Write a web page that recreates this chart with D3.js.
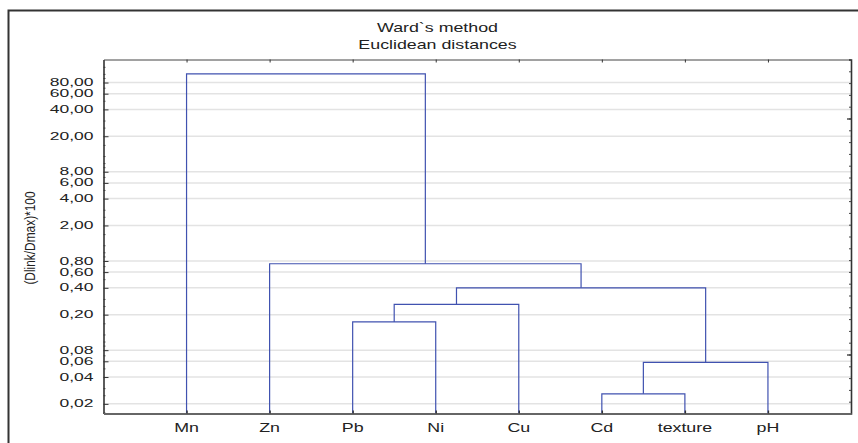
<!DOCTYPE html>
<html><head><meta charset="utf-8">
<script src="https://cdn.jsdelivr.net/npm/d3@7"></script>
<style>
body{margin:0;background:#fff}
svg{display:block}
text{font-family:"Liberation Sans",Arial,Helvetica,sans-serif;fill:#222}
</style>
</head><body><svg id="c" width="858" height="443"></svg>
<script>
// ---- data ----
const leaves = ["Mn","Zn","Pb","Ni","Cu","Cd","texture","pH"];
// linkage rows: indices < 8 are leaves, >= 8 refer to earlier merges (8 + row)
const mergeA = [5, 2, 8, 9, 11, 1, 0];
const mergeB = [6, 3, 7, 4, 10, 12, 13];
const mergeHeight = [0.0259, 0.166, 0.0583, 0.261, 0.400, 0.744, 100];
const yTickValues = [80,60,40,20,8,6,4,2,0.8,0.6,0.4,0.2,0.08,0.06,0.04,0.02];
const yMinorFactors = [1,1.2,1.6,2.5,3,5,7,9];
const titleLines = ["Ward`s method","Euclidean distances"];
const yTitle = "(Dlink/Dmax)*100";

// ---- layout ----
const plot = {left:103.5, right:851, top:59.5, bottom:413.5};
const svg = d3.select("#c");

// outer frame
svg.append("rect").attr("x",8.5).attr("y",10.5).attr("width",860).attr("height",460)
  .attr("fill","none").attr("stroke","#333").attr("stroke-width",2);

const x = d3.scaleLinear().domain([0, leaves.length+1]).range([plot.left, plot.right]);
const y = d3.scaleLog().domain([0.0156, 145]).range([plot.bottom, plot.top]);
const yRight = d3.scaleLinear().domain([0,30]).range([plot.bottom, plot.top]);

const fmt = d3.formatLocale({decimal:",", thousands:".", grouping:[3], currency:["",""]}).format(".2f");

// gridlines
svg.append("g").selectAll("line").data(yTickValues).join("line")
  .attr("x1",plot.left).attr("x2",plot.right)
  .attr("y1",d=>y(d)).attr("y2",d=>y(d))
  .attr("stroke","#e3e3e3").attr("stroke-width",1.5);

// left axis (ticks inward)
const minorVals = [];
for (let e=-2; e<=2; e++) yMinorFactors.forEach(k=>{const v=k*Math.pow(10,e); if(v>y.domain()[0]&&v<y.domain()[1]) minorVals.push(v);});
svg.append("g").attr("transform",`translate(${plot.left},0)`)
  .call(d3.axisLeft(y).tickValues(minorVals).tickSize(-2).tickFormat(""))
  .call(g=>{g.select(".domain").remove(); g.selectAll("line").attr("stroke","#555");});
svg.append("g").attr("transform",`translate(${plot.left},0)`)
  .call(d3.axisLeft(y).tickValues(yTickValues).tickSizeInner(-5).tickSizeOuter(0).tickFormat(""))
  .call(g=>{g.select(".domain").attr("stroke","#333").attr("stroke-width",1.6); g.selectAll("line").attr("stroke","#333");});

// y tick labels
svg.append("g").selectAll("text").data(yTickValues).join("text")
  .attr("transform",d=>`translate(93.5,${y(d)+3.6}) scale(1.75,1)`)
  .attr("text-anchor","end").style("font-size","10px").text(d=>fmt(d));

// right axis
svg.append("g").attr("transform",`translate(${plot.right},0)`)
  .call(d3.axisRight(yRight).tickValues(d3.range(0,31)).tickSize(-2).tickFormat(""))
  .call(g=>{g.select(".domain").attr("stroke","#333").attr("stroke-width",1.6); g.selectAll("line").attr("stroke","#444");});
svg.append("g").attr("transform",`translate(${plot.right},0)`)
  .call(d3.axisRight(yRight).tickValues([5,25]).tickSize(-4).tickFormat(""))
  .call(g=>{g.select(".domain").remove(); g.selectAll("line").attr("stroke","#333").attr("stroke-width",1.3);});

// top axis
svg.append("g").attr("transform",`translate(0,${plot.top})`)
  .call(d3.axisTop(x).tickValues(d3.range(1,leaves.length+1)).tickSizeInner(-3).tickSizeOuter(0).tickFormat(""))
  .call(g=>{g.select(".domain").attr("stroke","#444").attr("stroke-width",1); g.selectAll("line").attr("stroke","#333");});

// dendrogram
const nodes = leaves.map((n,i)=>({x:x(i+1), y:plot.bottom}));
const segs = [];
mergeA.forEach((a,i)=>{
  const A = nodes[a], B = nodes[mergeB[i]];
  const yy = y(mergeHeight[i]);
  segs.push(`M${A.x},${A.y}V${yy}H${B.x}V${B.y}`);
  nodes.push({x:(A.x+B.x)/2, y:yy});
});
svg.append("g").selectAll("path").data(segs).join("path")
  .attr("d",d=>d).attr("fill","none").attr("stroke","#4052b0").attr("stroke-width",1.2);

// bottom axis
svg.append("g").attr("transform",`translate(0,${plot.bottom})`)
  .call(d3.axisBottom(x).tickValues(d3.range(1,leaves.length+1)).tickSizeInner(-3).tickSizeOuter(0).tickFormat(""))
  .call(g=>{g.select(".domain").attr("stroke","#666").attr("stroke-width",1.8); g.selectAll("line").attr("stroke","#333").attr("stroke-width",1.4);});

// category labels
svg.append("g").selectAll("text").data(leaves).join("text")
  .attr("transform",(d,i)=>`translate(${x(i+1)},431.5) scale(1.37,1)`)
  .attr("text-anchor","middle").style("font-size","13px").text(d=>d);

// title
svg.append("g").selectAll("text").data(titleLines).join("text")
  .attr("transform",(d,i)=>`translate(437.5,${31.5+i*17.5}) scale(1.37,1)`)
  .attr("text-anchor","middle").style("font-size","13px").text(d=>d);

// y axis title
svg.append("text").attr("transform","translate(35,238) rotate(-90) scale(0.85,1)")
  .attr("text-anchor","middle").style("font-size","14px").text(yTitle);
</script>
</body></html>
